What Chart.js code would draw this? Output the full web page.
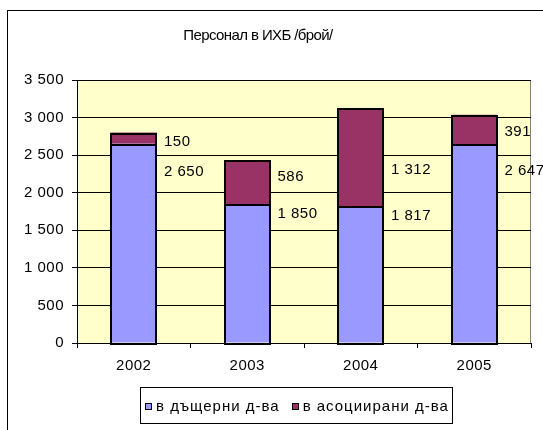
<!DOCTYPE html>
<html>
<head>
<meta charset="utf-8">
<script src="https://cdn.jsdelivr.net/npm/chart.js@4/dist/chart.umd.min.js"></script>
<style>
  body { margin: 0; background: #fff; }
  canvas { display: block; }
</style>
</head>
<body>
<canvas id="c" width="543" height="430"></canvas>
<script>
var title = 'Персонал в ИХБ /брой/';
var years = ['2002', '2003', '2004', '2005'];
var subsidiaries = [2650, 1850, 1817, 2647];
var associates = [150, 586, 1312, 391];
var seriesNames = ['в дъщерни д-ва', 'в асоциирани д-ва'];
var yTicks = [0, 500, 1000, 1500, 2000, 2500, 3000, 3500];

// value labels sit right of each bar, nudged down from the segment top (px)
var labelNudge = [[28, 10, 9, 27], [9, 17, 62, 17]];

var FONT = '"Liberation Sans", Arial, sans-serif';
Chart.defaults.font.family = FONT;
Chart.defaults.font.size = 15;
Chart.defaults.color = '#000';

function fmt(v) {
    return String(v).replace(/\B(?=(\d{3})+(?!\d))/g, ' ');
}

var decor = {
    id: 'decor',
    beforeDraw: function(chart) {
        var ctx = chart.ctx, a = chart.chartArea;
        // slightly airy text for the axis labels too
        ctx.letterSpacing = '0.5px';
        ctx.save();
        ctx.fillStyle = '#fff';
        ctx.fillRect(0, 0, chart.width, chart.height);
        // outer frame
        ctx.strokeStyle = '#000';
        ctx.lineWidth = 1;
        ctx.strokeRect(7.5, 10.5, 700, 600);
        // plot background
        ctx.fillStyle = '#FFFFCC';
        ctx.fillRect(a.left, a.top, a.right - a.left, a.bottom - a.top);
        ctx.strokeStyle = '#808080';
        ctx.strokeRect(a.left + 0.5, a.top + 0.5, a.right - a.left - 1, a.bottom - a.top);
        ctx.restore();
    },
    afterDatasetsDraw: function(chart) {
        // black outline round every bar segment
        var ctx = chart.ctx;
        ctx.save();
        ctx.strokeStyle = '#000';
        ctx.lineWidth = 2;
        chart.data.datasets.forEach(function(ds, di) {
            chart.getDatasetMeta(di).data.forEach(function(bar) {
                var l = Math.round(bar.x - bar.width / 2), r = Math.round(bar.x + bar.width / 2);
                var t = Math.round(bar.y), b = Math.round(bar.base);
                ctx.strokeRect(l + 1, t + 1, r - l - 2, b - t);
            });
        });
        ctx.restore();
    },
    afterDraw: function(chart) {
        var ctx = chart.ctx;
        ctx.save();
        ctx.fillStyle = '#000';
        ctx.textBaseline = 'middle';

        // title
        ctx.font = '15px ' + FONT;
        ctx.letterSpacing = '-0.6px';
        ctx.textAlign = 'center';
        ctx.fillText(title, 258, 36);

        // value labels
        ctx.font = '15px ' + FONT;
        ctx.letterSpacing = '0.5px';
        ctx.textAlign = 'left';
        chart.data.datasets.forEach(function(ds, di) {
            var meta = chart.getDatasetMeta(di);
            meta.data.forEach(function(bar, i) {
                var right = bar.x + bar.width / 2;
                ctx.fillText(fmt(ds.data[i]), right + 7, bar.y + labelNudge[di][i]);
            });
        });

        // legend
        ctx.letterSpacing = '1px';
        var sq = 7, gap = 4, between = 12, y = 406;
        var widths = chart.data.datasets.map(function(ds) { return ctx.measureText(ds.label).width; });
        var total = widths.reduce(function(s, w) { return s + sq + gap + w; }, 0) + between;
        var x = 297 - total / 2;
        ctx.strokeStyle = '#000';
        ctx.lineWidth = 1;
        ctx.strokeRect(Math.round(x - 5) + 0.5, 387.5, Math.round(total + 8), 36);
        chart.data.datasets.forEach(function(ds, di) {
            var sx = Math.round(x);
            ctx.fillStyle = ds.backgroundColor;
            ctx.fillRect(sx, y - 3, sq, sq);
            ctx.strokeStyle = '#000';
            ctx.strokeRect(sx + 0.5, y - 2.5, sq - 1, sq - 1);
            ctx.fillStyle = '#000';
            ctx.fillText(ds.label, x + sq + gap, y + 1);
            x += sq + gap + widths[di] + between;
        });
        ctx.restore();
    }
};

var chart = new Chart(document.getElementById('c').getContext('2d'), {
    type: 'bar',
    data: {
        labels: years,
        datasets: [{
            label: seriesNames[0],
            data: subsidiaries,
            backgroundColor: '#9999FF',
            borderWidth: 0,
            inflateAmount: 0
        }, {
            label: seriesNames[1],
            data: associates,
            backgroundColor: '#993366',
            borderWidth: 0,
            inflateAmount: 0
        }]
    },
    options: {
        responsive: false,
        animation: false,
        events: [],
        layout: { padding: { left: 8, top: 80, right: 12, bottom: 45 } },
        datasets: { bar: { categoryPercentage: 1, barPercentage: 0.41 } },
        plugins: {
            legend: { display: false },
            title: { display: false },
            tooltip: { enabled: false }
        },
        scales: {
            x: {
                stacked: true,
                afterFit: function(s) { s.height = 42; },
                grid: { drawOnChartArea: false, color: '#000', tickLength: 5 },
                border: { color: '#000' },
                ticks: { padding: 9 }
            },
            y: {
                stacked: true,
                min: 0,
                max: 3500,
                afterFit: function(s) { s.width = 69; },
                afterBuildTicks: function(s) { s.ticks = yTicks.map(function(v) { return { value: v }; }); },
                grid: { color: '#000', tickLength: 5 },
                border: { color: '#000' },
                ticks: { padding: 8, callback: function(v) { return fmt(v); } }
            }
        }
    },
    plugins: [decor]
});
</script>
</body>
</html>
